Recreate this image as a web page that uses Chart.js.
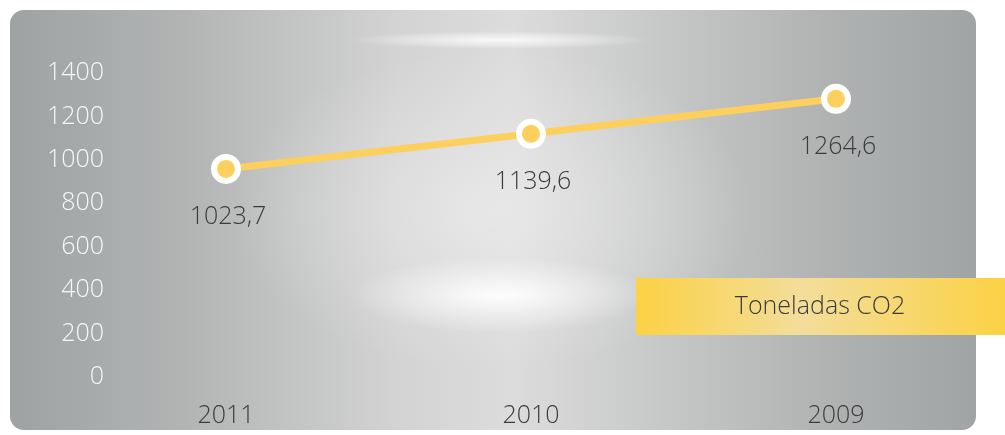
<!DOCTYPE html>
<html lang="pt-BR">
<head>
  <meta charset="UTF-8" />
  <title>Toneladas CO2</title>
  <script src="https://cdn.jsdelivr.net/npm/chart.js"></script>
  <style>
    html, body { margin: 0; padding: 0; background: #fff; }
    #wrap { position: relative; width: 1005px; height: 435px; overflow: hidden; }
    #painel {
      position: absolute; left: 10px; top: 10px; width: 966px; height: 420px;
      border-radius: 14px;
      background:
        radial-gradient(ellipse 150px 38px at 490px 285px, rgba(255,255,255,0.95), rgba(255,255,255,0.4) 55%, rgba(255,255,255,0) 100%),
        radial-gradient(ellipse 150px 9px at 490px 30px, rgba(255,255,255,0.85), rgba(255,255,255,0)),
        radial-gradient(ellipse 260px 160px at 480px 200px, rgba(240,240,240,0.6), rgba(240,240,240,0)),
        linear-gradient(to right, #9ea2a3 0%, #b2b4b4 18%, #d3d3d3 40%, #dcdcdc 52%, #c6c7c7 68%, #b0b2b2 85%, #a0a4a5 100%);
    }
    canvas { position: absolute; left: 0; top: 0; }
  </style>
</head>
<body>
  <div id="wrap">
    <div id="painel"></div>
    <canvas id="graficoCO2" width="1005" height="435"></canvas>
  </div>

  <script>
    const anos = ['2011', '2010', '2009'];
    // posição dos pontos
    const toneladas = [958, 1120, 1281];
    // valores impressos junto aos pontos
    const rotulos = ['1023,7', '1139,6', '1264,6'];
    const serie = 'Toneladas CO2';

    const fonte = "'Open Sans', 'DejaVu Sans', sans-serif";

    // rótulos de valor abaixo de cada ponto
    const rotulosValor = {
      id: 'rotulosValor',
      afterDatasetsDraw(chart) {
        const ctx = chart.ctx;
        const meta = chart.getDatasetMeta(0);
        ctx.save();
        ctx.font = '300 25px ' + fonte;
        ctx.fillStyle = '#3b3b3d';
        ctx.textAlign = 'center';
        ctx.textBaseline = 'middle';
        meta.data.forEach((pt, i) => {
          ctx.fillText(rotulos[i], pt.x + 2, pt.y + 48);
        });
        ctx.restore();
      }
    };

    // caixa amarela da legenda
    const caixaLegenda = {
      id: 'caixaLegenda',
      afterDraw(chart) {
        const ctx = chart.ctx;
        const x = 636, y = 278, w = chart.width - 636, h = 57;
        ctx.save();
        const g = ctx.createLinearGradient(x, 0, x + w, 0);
        g.addColorStop(0, '#fbd244');
        g.addColorStop(0.45, '#f3dd9a');
        g.addColorStop(1, '#fbd245');
        ctx.fillStyle = g;
        ctx.fillRect(x, y, w, h);
        ctx.font = '300 25px ' + fonte;
        ctx.fillStyle = '#3b3b3d';
        ctx.textAlign = 'center';
        ctx.textBaseline = 'middle';
        ctx.fillText(chart.data.datasets[0].label, 820, y + h / 2);
        ctx.restore();
      }
    };

    const ctx = document.getElementById('graficoCO2').getContext('2d');
    new Chart(ctx, {
      type: 'line',
      data: {
        labels: anos,
        datasets: [{
          label: serie,
          data: toneladas,
          borderColor: '#fdcf5c',
          borderWidth: 7,
          pointRadius: 12,
          pointHoverRadius: 12,
          pointBackgroundColor: '#fdcf5c',
          pointBorderColor: '#ffffff',
          pointBorderWidth: 6,
          tension: 0,
          fill: false
        }]
      },
      options: {
        responsive: false,
        animation: false,
        layout: { padding: { left: 30, right: 169, top: 73, bottom: 0 } },
        plugins: {
          legend: { display: false },
          tooltip: { enabled: false }
        },
        scales: {
          x: {
            offset: false,
            grid: { display: false, drawTicks: false },
            border: { display: false },
            ticks: {
              color: '#3b3b3d',
              font: { family: fonte, size: 25, weight: 300 },
              padding: 24,
              maxRotation: 0,
              autoSkip: false
            },
            afterFit(scale) { scale.height = 58; }
          },
          y: {
            min: 0,
            max: 1400,
            grid: { display: false, drawTicks: false },
            border: { display: false },
            ticks: {
              stepSize: 200,
              autoSkip: false,
              color: '#f7f7f7',
              font: { family: fonte, size: 25, weight: 300 },
              padding: 122,
              callback: v => String(v)
            },
            afterFit(scale) {
              scale.width = 196;
              scale.paddingTop = 0;
              scale.paddingBottom = 0;
            }
          }
        }
      },
      plugins: [rotulosValor, caixaLegenda]
    });
  </script>
</body>
</html>
